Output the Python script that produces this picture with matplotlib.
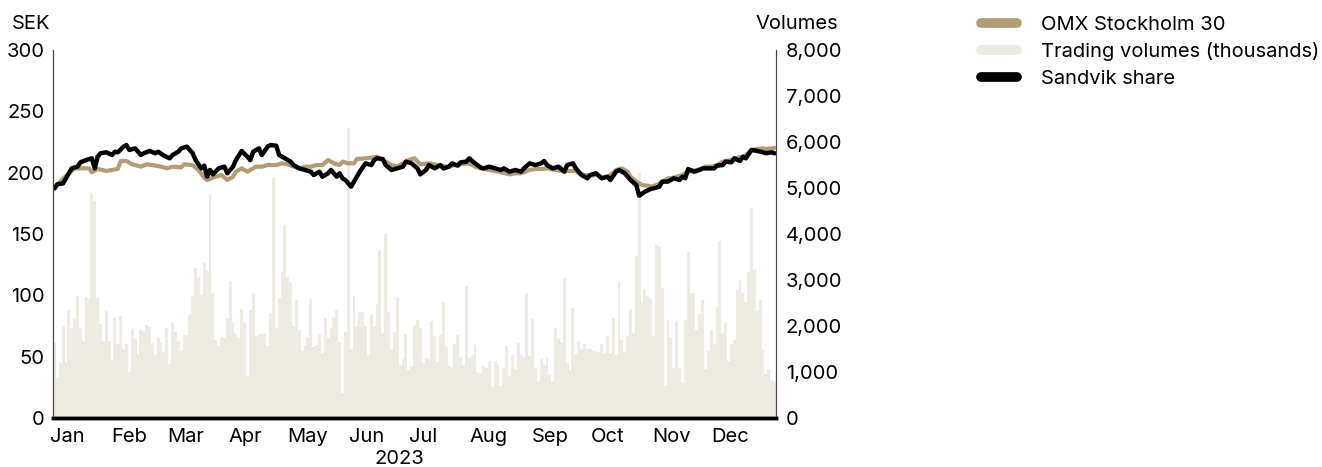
import matplotlib.pyplot as plt
from matplotlib.lines import Line2D
from matplotlib.ticker import FuncFormatter
from matplotlib.transforms import ScaledTranslation
import pandas as pd

# Trading days 2023 (Stockholm)
holidays = ['2023-01-06', '2023-04-07', '2023-04-10', '2023-05-01', '2023-05-18',
            '2023-06-06', '2023-06-23', '2023-12-25', '2023-12-26']
dates = pd.bdate_range('2023-01-02', '2023-12-29').drop(pd.to_datetime(holidays))

# Daily trading volumes (thousands)
volumes = [
    1640, 860, 1200, 2000, 1225, 2350, 1950, 2150, 2650, 1950,
    1680, 2620, 2590, 4900, 4720, 2600, 2040, 1680, 2330, 1680,
    1280, 2180, 1610, 2220, 1500, 1610, 1010, 1930, 1720, 1390,
    1910, 1890, 2020, 1970, 1620, 1370, 1730, 1640, 1440, 1950,
    1170, 2070, 1880, 1670, 1460, 1800, 1800, 2240, 2650, 3270,
    3070, 2670, 3380, 3200, 4870, 2710, 1700, 1570, 1770, 1730, 2170,
    2980, 2060, 1855, 1750, 2370, 2070, 910, 2350, 2720, 1790,
    1830, 1820, 1820, 1570, 2280, 5210, 1960, 2600, 3170, 4200,
    3060, 2950, 1990, 2570, 1910, 1460, 1590, 1770, 2580, 1550,
    1590, 1830, 1410, 2170, 1750, 1950, 2200, 2340, 1660, 540,
    1880, 6300, 1490, 2650, 1990, 2300, 2300, 1990, 1370, 2240,
    2000, 2480, 3650, 1855, 4010, 2310, 1480, 1870, 2620, 1150,
    1290, 1820,
    1040, 1120, 2020, 2130, 1950, 1200, 1300, 1280, 2110, 1780,
    1220, 1800, 2520, 1540, 1120, 1090, 1610, 1800, 1330, 1160,
    2860, 1300, 1370, 1590, 990, 960, 1130, 1080, 1250, 680,
    1250, 1150, 700, 1090, 1570, 910, 1370, 1060, 1640, 1370,
    1330, 2720, 1350, 2150, 1090, 810, 1290, 1150, 1310, 930,
    790, 1960, 1720, 1660, 3050, 1190, 1040, 2400, 1390, 1680,
    1510, 1610, 1500,
    1490, 1460, 1440, 1430, 1610, 1410, 1780, 1410, 2170, 1380,
    2960, 1700, 1440, 1780, 2380, 1855, 3520, 5330, 2510, 2800,
    2660, 2590, 1790, 3760, 3720, 2820, 700, 2130, 1730, 1090,
    2110, 1080, 770, 2130, 3600, 2710, 2720, 1910, 2260, 2570,
    1070, 1460, 1910, 1610, 2420, 3850, 1840, 2070, 1250, 1610,
    1700, 2780, 3010, 2720, 2530, 3180, 4560, 3240, 2330, 2570,
    1480, 960, 1070, 830, 810,
]

# Sandvik share price (SEK), by trading day number
sandvik_day = [0, 1, 3, 5, 6, 8, 9, 11, 13, 14, 15, 16, 18, 20, 21, 22, 24, 25, 26, 28,
               30, 31, 33, 35, 36, 38, 40, 41, 43, 44, 46, 47, 48, 49, 51, 52, 53, 54, 55, 57,
               59, 60, 62, 63, 65, 67, 68, 69, 71, 72, 74, 75, 77, 78, 80, 82, 83, 85, 87, 89,
               90, 92, 93, 95, 96, 98, 99, 100, 101, 103, 104, 106, 108, 110, 111, 112, 114, 115, 117, 119,
               121, 122, 124, 126, 127, 129, 130, 132, 134, 135, 137, 138, 140, 141, 143, 144, 146, 148, 149, 151,
               153, 155, 156, 158, 160, 162, 163, 165, 167, 169, 170, 171, 173, 175, 177, 178, 180, 181, 183, 185,
               186, 188, 190, 192, 193, 195, 196, 198, 200, 202, 203, 205, 207, 208, 210, 211, 213, 215, 217, 218,
               219, 220, 222, 224, 225, 227, 229, 230, 232, 233, 235, 236, 238, 239, 240, 242, 244, 246, 247, 249, 250]
sandvik = [187.2, 190.5, 191.3, 199.5, 203.5, 204.9, 208.4, 210.3, 211.7, 203.5, 213.0, 215.8, 216.6, 214.4, 217.1, 216.6, 221.2, 222.5, 218.5, 219.8,
           214.4, 215.8, 217.7, 215.8, 217.1, 213.9, 211.7, 214.4, 217.1, 219.8, 221.2, 218.5, 215.8, 210.3, 203.5, 205.7, 196.7, 202.2, 198.6, 203.5,
           204.9, 199.5, 204.9, 210.3, 217.7, 213.0, 210.3, 217.1, 219.8, 214.4, 221.2, 222.5, 222.0, 214.4, 211.7, 209.0, 206.2, 203.5, 202.2, 200.8,
           198.1, 200.8, 196.7, 199.5, 202.2, 196.7, 199.5, 195.4, 194.0, 188.6, 192.7, 200.8, 207.6, 206.2, 210.3, 211.7, 211.1, 206.2, 202.2, 203.5,
           204.9, 209.0, 207.6, 203.5, 198.6, 202.2, 206.2, 203.5, 206.2, 203.5, 204.9, 207.6, 205.7, 208.4, 209.0, 211.7, 207.6, 204.1, 203.5, 204.9,
           203.5, 202.2, 203.5, 200.8, 202.2, 200.8, 203.5, 207.6, 206.2, 207.6, 209.5, 206.2, 203.5, 204.9, 200.8, 206.2, 207.6, 203.5, 198.1, 195.4,
           198.1, 199.5, 195.4, 196.7, 194.0, 200.8, 202.2, 199.5, 194.0, 189.9, 181.2, 184.5, 186.7, 187.2, 188.6, 192.7, 192.7, 195.4, 194.0, 196.7,
           195.4, 203.0, 200.8, 202.2, 203.5, 203.5, 203.5, 205.7, 206.2, 209.0, 208.4, 211.7, 209.5, 213.0, 211.7, 218.5, 217.7, 216.6, 215.8, 216.6, 215.8]

# OMX Stockholm 30, rebased to the share price (SEK)
omx_day = [0, 2, 5, 7, 9, 12, 13, 15, 18, 20, 22, 23, 25, 27, 30, 32, 34, 37, 39, 41,
           44, 45, 48, 50, 52, 53, 56, 58, 60, 62, 63, 65, 67, 68, 70, 72, 74, 77, 79, 81,
           83, 85, 87, 89, 91, 93, 95, 97, 99, 100, 102, 104, 105, 108, 110, 112, 114, 115, 117, 119,
           121, 123, 125, 127, 130, 132, 134, 137, 139, 141, 144, 146, 148, 151, 153, 155, 158, 160, 162, 165,
           167, 169, 171, 174, 176, 178, 181, 182, 184, 187, 188, 190, 192, 193, 195, 197, 199, 200, 202, 204,
           206, 207, 209, 211, 213, 214, 216, 218, 219, 221, 223, 225, 226, 228, 230, 232, 233, 235, 237, 239,
           240, 242, 244, 246, 247, 249, 250]
omx = [187.2, 192.7, 199.5, 203.5, 203.5, 203.5, 200.3, 203.0, 201.4, 202.2, 203.0, 209.5, 209.5, 206.8, 204.9, 206.8, 206.2, 204.9, 203.5, 204.9,
       204.3, 206.8, 206.2, 202.2, 195.9, 194.0, 196.7, 198.1, 194.0, 196.7, 200.8, 203.5, 200.8, 202.2, 204.9, 204.9, 206.2, 206.2, 207.6, 206.8,
       204.9, 203.5, 204.9, 204.9, 206.2, 206.2, 210.3, 207.6, 206.2, 209.0, 207.6, 207.6, 211.1, 211.7, 212.2, 213.0, 210.3, 209.0, 206.2, 204.9,
       207.6, 210.3, 211.7, 206.8, 207.6, 206.8, 205.7, 204.9, 206.2, 206.8, 207.6, 204.9, 203.5, 202.2, 201.4, 200.3, 198.6, 199.5, 199.5, 202.2,
       203.0, 203.0, 203.5, 202.2, 201.4, 201.4, 201.4, 199.5, 198.1, 197.6, 198.6, 195.9, 196.7, 198.1, 202.2, 203.5, 200.8, 196.7, 192.7, 189.9,
       189.4, 188.6, 189.9, 192.7, 195.4, 195.4, 196.7, 198.1, 199.5, 201.4, 202.2, 203.5, 204.9, 204.9, 206.2, 209.0, 209.5, 210.3, 212.2, 213.0,
       214.4, 218.5, 219.3, 219.8, 219.3, 219.8, 220.3]

month_names = ['Jan', 'Feb', 'Mar', 'Apr', 'May', 'Jun', 'Jul', 'Aug', 'Sep', 'Oct', 'Nov', 'Dec']

tan = '#b39c74'
bar_color = '#edeae2'

plt.rcParams['font.family'] = ['Inter', 'DejaVu Sans']
fs = 14.5

fig = plt.figure(figsize=(13.22, 4.67), dpi=100)
ax = fig.add_axes([53 / 1322, 1 - 418 / 467, (776 - 53) / 1322, (418 - 50) / 467])
ax2 = ax.twinx()

# volumes on the main axes (drawn behind), price lines on the twin
n = min(len(dates), len(volumes))
ax.bar(range(n), volumes[:n], width=1.0, color=bar_color, linewidth=0)
ax2.plot(omx_day, omx, color=tan, lw=3, solid_joinstyle='round', solid_capstyle='round')
ax2.plot(sandvik_day, sandvik, color='black', lw=3.2, solid_joinstyle='round', solid_capstyle='round')

# month labels at the calendar start of each month
month_doy = pd.date_range('2023-01-01', periods=12, freq='MS').dayofyear
ax.set_xticks([(d - 1) / 365 * n - 0.5 for d in month_doy])
ax.set_xticklabels(month_names, ha='left')
ax.tick_params(axis='x', length=0, pad=7, labelsize=fs)
for lab in ax.get_xticklabels():
    lab.set_transform(lab.get_transform() + ScaledTranslation(-3 / 100, 0, fig.dpi_scale_trans))

ax.set_xlim(-0.5, n - 0.5)
ax.set_ylim(0, 8000)
ax2.set_ylim(0, 300)

# volume axis on the right, SEK axis on the left
ax.yaxis.tick_right()
ax2.yaxis.tick_left()
ax.set_yticks(range(0, 8001, 1000))
ax.yaxis.set_major_formatter(FuncFormatter(lambda v, p: f'{int(v):,}'))
ax2.set_yticks(range(0, 301, 50))
ax.tick_params(axis='y', length=0, pad=7, labelsize=fs)
ax2.tick_params(axis='y', length=0, pad=6, labelsize=fs)

for a in (ax, ax2):
    a.spines['top'].set_visible(False)
    a.spines['left'].set_color('#444444')
    a.spines['right'].set_color('#444444')
    a.spines['left'].set_linewidth(0.8)
    a.spines['right'].set_linewidth(0.8)
    a.spines['bottom'].set_color('black')
    a.spines['bottom'].set_linewidth(2.5)

fig.text(12 / 1322, 1 - 24 / 467, 'SEK', fontsize=fs, va='center', ha='left')
fig.text(838 / 1322, 1 - 24 / 467, 'Volumes', fontsize=fs, va='center', ha='right')
fig.text(399 / 1322, 1 - 459 / 467, '2023', fontsize=fs, va='center', ha='center')

handles = [Line2D([], [], color=tan, lw=7, solid_capstyle='round'),
           Line2D([], [], color=bar_color, lw=7, solid_capstyle='round'),
           Line2D([], [], color='black', lw=7, solid_capstyle='round')]
labels = ['OMX Stockholm 30', 'Trading volumes (thousands)', 'Sandvik share']
fig.legend(handles, labels, loc='upper left', bbox_to_anchor=(981 / 1322, 1 - 16 / 467),
           frameon=False, fontsize=fs, handlelength=1.8, handletextpad=1.2,
           labelspacing=0.41, borderaxespad=0, borderpad=0)

fig.savefig('out.png', dpi=100)
